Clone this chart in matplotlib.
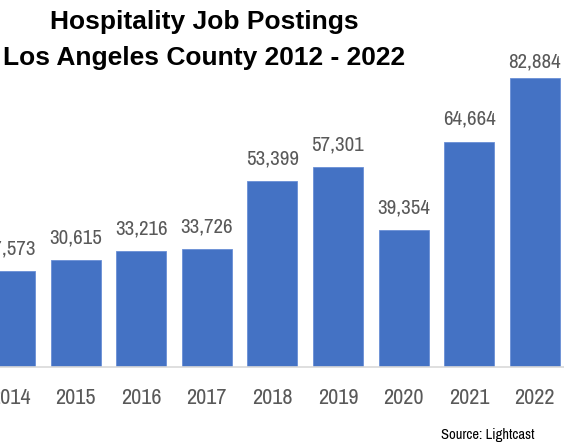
import matplotlib
matplotlib.use("Agg")
import matplotlib.pyplot as plt

years = ["2012", "2013", "2014", "2015", "2016", "2017", "2018", "2019", "2020", "2021", "2022"]
postings = [21800, 24600, 27573, 30615, 33216, 33726, 53399, 57301, 39354, 64664, 82884]

W, H = 564, 443
DPI = 100
fig = plt.figure(figsize=(W / DPI, H / DPI), dpi=DPI)

# plot area laid out in pixels; it starts left of the canvas edge
step = 65.6                 # pixels between bar centres
x_first = 10 - 2 * step     # pixel centre of the 2012 bar
base_y = 367                # baseline, pixels from the top
top_y = 45                  # top of the plot area, pixels from the top
px_per_unit = 289 / 82884
ymax = (base_y - top_y) / px_per_unit

left_px = x_first - 0.6 * step
width_px = 11.2 * step
ax = fig.add_axes([left_px / W, (H - base_y) / H, width_px / W, (base_y - top_y) / H])

bar_color = "#4472C4"
text_color = "#595959"
narrow = ["Archivo Narrow", "Liberation Sans", "DejaVu Sans"]

xs = list(range(len(years)))
ax.bar(xs, postings, width=0.76, color=bar_color, edgecolor="#6a8fd6", linewidth=0.6, zorder=2)
ax.set_xlim(-0.6, 10.6)
ax.set_ylim(0, ymax)

# value labels sit above each bar but are kept inside the plot area
gap_px = 16.7
min_base_px = top_y + 22
for x, v in zip(xs, postings):
    bar_top = base_y - v * px_per_unit
    label_base = max(bar_top - gap_px, min_base_px)
    off_pt = (bar_top - label_base) * 72 / DPI
    ax.annotate(f"{v:,}", (x, v), xytext=(0, off_pt), textcoords="offset points",
                ha="center", va="baseline", fontsize=15, color=text_color,
                family=narrow, annotation_clip=False)

ax.set_xticks(xs)
ax.set_xticklabels(years, fontsize=16, color=text_color, family=narrow)
ax.tick_params(axis="x", length=0, pad=15)
ax.set_yticks([])
for s in ("left", "right", "top"):
    ax.spines[s].set_visible(False)
ax.spines["bottom"].set_color("#d9d9d9")
ax.spines["bottom"].set_linewidth(1.2)

title_font = ["Liberation Sans", "DejaVu Sans"]
fig.text(204 / W, 1 - 29 / H, "Hospitality Job Postings", ha="center", va="baseline",
         fontsize=19, fontweight="bold", family=title_font, color="black")
fig.text(204 / W, 1 - 65 / H, "Los Angeles County 2012 - 2022", ha="center", va="baseline",
         fontsize=19, fontweight="bold", family=title_font, color="black")

fig.text(488 / W, 1 - 438.7 / H, "Source: Lightcast", ha="center", va="baseline",
         fontsize=10.5, color="black", family=narrow)

fig.savefig("out.png", dpi=DPI)
